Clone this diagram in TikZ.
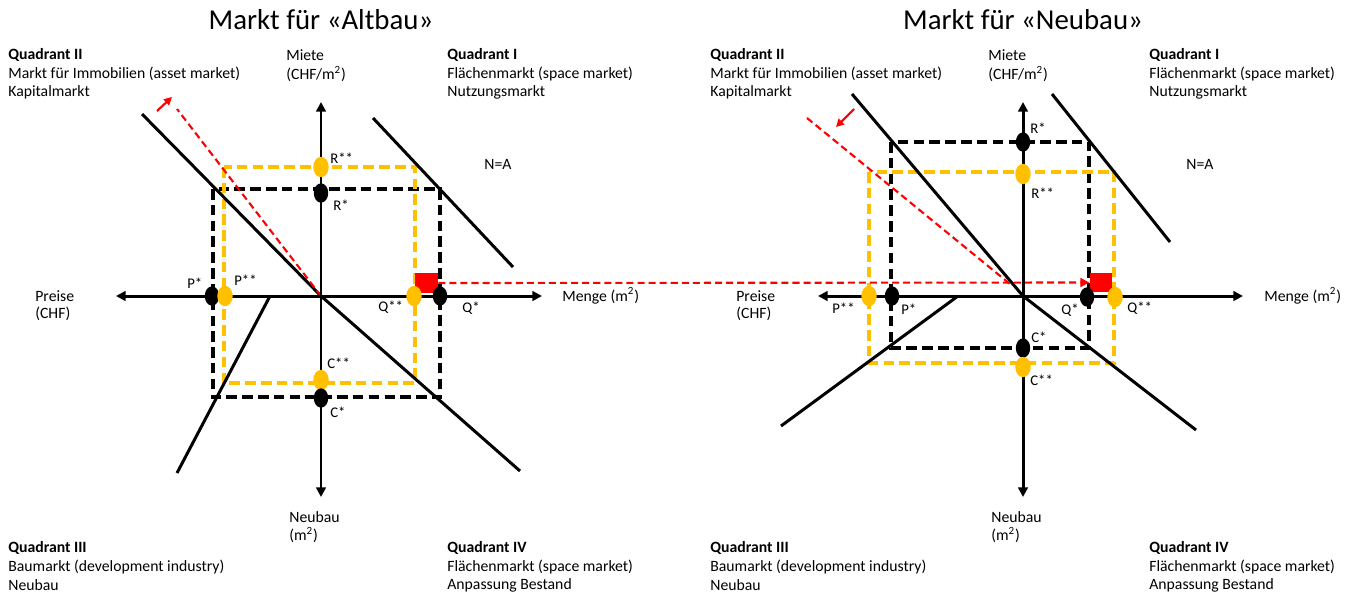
\documentclass[tikz,border=0pt]{standalone}
\usepackage{fontspec}
\setmainfont{Carlito}
\usetikzlibrary{shapes.geometric,arrows.meta}
\definecolor{gold}{RGB}{255,192,0}

\begin{document}
\begin{tikzpicture}[x=0.02cm, y=-0.02cm,
    txt/.style={anchor=west, inner sep=0pt, font=\fontsize{8.95}{11}\selectfont},
    ttl/.style={inner sep=0pt, font=\fontsize{16.4}{19}\selectfont},
    lbl/.style={anchor=west, inner sep=0pt, font=\fontsize{8.4}{10}\selectfont},
    axisline/.style={line width=1.7pt, {Triangle[length=5.5pt,width=5.5pt]}-{Triangle[length=5.5pt,width=5.5pt]}},
    mline/.style={line width=1.7pt},
    blkdash/.style={line width=1.8pt, dash pattern=on 6pt off 3pt},
    ylwdash/.style={blkdash, draw=gold},
    reddash/.style={red, line width=1.2pt, dash pattern=on 4pt off 2.3pt},
    redarrow/.style={red, line width=1.2pt, -{Triangle[length=4.5pt,width=4.5pt]}},
    dotb/.style={ellipse, fill=black, minimum width=8.2pt, minimum height=11pt, inner sep=0pt},
    doty/.style={dotb, fill=gold, minimum width=8.8pt, minimum height=11.6pt},
    sq/.style={fill=red, minimum width=13pt, minimum height=11.3pt, inner sep=0pt}]

    \path[fill=white, use as bounding box] (0,0) rectangle (1354,599);

    % ---------------- Altbau ----------------
    \draw(321,20) node[ttl] (titleA) {Markt für «Altbau»};
    \draw(8,55) node[txt] (q2A) {\textbf{Quadrant II}};
    \draw(8,74) node[txt] (q2Aa) {Markt für Immobilien (asset market)};
    \draw(8,92) node[txt] (q2Ab) {Kapitalmarkt};
    \draw(447,55) node[txt] (q1A) {\textbf{Quadrant I}};
    \draw(447,74) node[txt] (q1Aa) {Flächenmarkt (space market)};
    \draw(447,92) node[txt] (q1Ab) {Nutzungsmarkt};
    \draw(8,548) node[txt] (q3A) {\textbf{Quadrant III}};
    \draw(8,567) node[txt] (q3Aa) {Baumarkt (development industry)};
    \draw(8,585) node[txt] (q3Ab) {Neubau};
    \draw(447,548) node[txt] (q4A) {\textbf{Quadrant IV}};
    \draw(447,567) node[txt] (q4Aa) {Flächenmarkt (space market)};
    \draw(447,585) node[txt] (q4Ab) {Anpassung Bestand};
    \draw(286,55) node[txt] (mieteA) {Miete};
    \draw(286,74) node[txt] (mieteAu) {(CHF/m\textsuperscript{2})};
    \draw(35,296) node[txt] (preisA) {Preise};
    \draw(35,314) node[txt] (preisAu) {(CHF)};
    \draw(562,296) node[txt] (mengeA) {Menge (m\textsuperscript{2})};
    \draw(289,517) node[txt] (neuA) {Neubau};
    \draw(289,535) node[txt] (neuAu) {(m\textsuperscript{2})};
    \draw(484,164) node[txt] (naA) {N=A};

    \coordinate (OA) at (321,296);
    \coordinate (lA) at (116,296);
    \coordinate (rA) at (542,296);
    \coordinate (tA) at (321,102);
    \coordinate (bA) at (321,497);

    \draw[blkdash] (213,189) rectangle (440,397);
    \draw[ylwdash] (224,167) rectangle (415,383);

    \coordinate (a2A) at (142,114);
    \coordinate (a1A) at (373,118);
    \coordinate (b1A) at (513,267);
    \coordinate (a3A) at (270,296);
    \coordinate (b3A) at (177,473);
    \coordinate (b4A) at (520,471);
    \draw[mline] (a2A) -- (OA);
    \draw[mline] (a1A) -- (b1A);
    \draw[mline] (a3A) -- (b3A);
    \draw[mline] (OA) -- (b4A);

    \coordinate (rdA) at (177,109);
    \draw[reddash] (OA) -- (rdA);
    \coordinate (raA) at (157,111);
    \coordinate (rbA) at (172,97);
    \draw[redarrow] (raA) -- (rbA);

    \draw[axisline] (lA) -- (rA);
    \draw[axisline] (tA) -- (bA);

    \draw(426.5,283) node[sq] (sqA) {};

    \draw(321,167) node[doty] (RssA) {};
    \draw(321,193) node[dotb] (RsA) {};
    \draw(212,296) node[dotb] (PsA) {};
    \draw(225,296) node[doty] (PssA) {};
    \draw(414,296) node[doty] (QssA) {};
    \draw(440,296) node[dotb] (QsA) {};
    \draw(321,380) node[doty] (CssA) {};
    \draw(321,398) node[dotb] (CsA) {};

    \draw(330,158) node[lbl] {R**};
    \draw(333,205) node[lbl] {R*};
    \draw(187,283) node[lbl] {P*};
    \draw(234,280) node[lbl] {P**};
    \draw(378,307) node[lbl] {Q**};
    \draw(462,308) node[lbl] {Q*};
    \draw(327,363) node[lbl] {C**};
    \draw(330,412) node[lbl] {C*};

    % ---------------- Neubau ----------------
    \draw(1023,20) node[ttl] (titleN) {Markt für «Neubau»};
    \draw(710,55) node[txt] (q2N) {\textbf{Quadrant II}};
    \draw(710,74) node[txt] (q2Na) {Markt für Immobilien (asset market)};
    \draw(710,92) node[txt] (q2Nb) {Kapitalmarkt};
    \draw(1149,55) node[txt] (q1N) {\textbf{Quadrant I}};
    \draw(1149,74) node[txt] (q1Na) {Flächenmarkt (space market)};
    \draw(1149,92) node[txt] (q1Nb) {Nutzungsmarkt};
    \draw(710,548) node[txt] (q3N) {\textbf{Quadrant III}};
    \draw(710,567) node[txt] (q3Na) {Baumarkt (development industry)};
    \draw(710,585) node[txt] (q3Nb) {Neubau};
    \draw(1149,548) node[txt] (q4N) {\textbf{Quadrant IV}};
    \draw(1149,567) node[txt] (q4Na) {Flächenmarkt (space market)};
    \draw(1149,585) node[txt] (q4Nb) {Anpassung Bestand};
    \draw(988,55) node[txt] (mieteN) {Miete};
    \draw(988,74) node[txt] (mieteNu) {(CHF/m\textsuperscript{2})};
    \draw(736,296) node[txt] (preisN) {Preise};
    \draw(736,314) node[txt] (preisNu) {(CHF)};
    \draw(1264,296) node[txt] (mengeN) {Menge (m\textsuperscript{2})};
    \draw(991,517) node[txt] (neuN) {Neubau};
    \draw(991,535) node[txt] (neuNu) {(m\textsuperscript{2})};
    \draw(1186,164) node[txt] (naN) {N=A};

    \coordinate (ON) at (1023,296);
    \coordinate (lN) at (818,296);
    \coordinate (rN) at (1243,296);
    \coordinate (tN) at (1023,102);
    \coordinate (bN) at (1023,497);

    \draw[blkdash] (891,142) rectangle (1089,348);
    \draw[ylwdash] (869,172) rectangle (1114,363);

    \coordinate (a2N) at (852,94);
    \coordinate (a1N) at (1052,94);
    \coordinate (b1N) at (1170,242);
    \coordinate (a3N) at (958,296);
    \coordinate (b3N) at (781,426);
    \coordinate (b4N) at (1196,430);
    \draw[mline] (a2N) -- (ON);
    \draw[mline] (a1N) -- (b1N);
    \draw[mline] (a3N) -- (b3N);
    \draw[mline] (ON) -- (b4N);

    \coordinate (rdN) at (807,118);
    \coordinate (reN) at (1010,284);
    \draw[reddash] (rdN) -- (reN);
    \coordinate (raN) at (854,109);
    \coordinate (rbN) at (836,127);
    \draw[redarrow] (raN) -- (rbN);

    \draw[axisline] (lN) -- (rN);
    \draw[axisline] (tN) -- (bN);

    \draw(1101,282.5) node[sq] (sqN) {};

    \draw(1023,142) node[dotb] (RsN) {};
    \draw(1023,174) node[doty] (RssN) {};
    \draw(869,296) node[doty] (PssN) {};
    \draw(892,296) node[dotb] (PsN) {};
    \draw(1087,297) node[dotb] (QsN) {};
    \draw(1115,297) node[doty] (QssN) {};
    \draw(1023,348) node[dotb] (CsN) {};
    \draw(1023,367) node[doty] (CssN) {};

    \draw(1030,128) node[lbl] {R*};
    \draw(1031,193) node[lbl] {R**};
    \draw(832,308) node[lbl] {P**};
    \draw(901,309) node[lbl] {P*};
    \draw(1061,310) node[lbl] {Q*};
    \draw(1127,308) node[lbl] {Q**};
    \draw(1031,337) node[lbl] {C*};
    \draw(1030,380) node[lbl] {C**};

    % shift from Altbau to Neubau
    \draw[reddash, -{Triangle[length=5pt,width=5pt]}] (sqA.east) -- (sqN.west);

\end{tikzpicture}
\end{document}
